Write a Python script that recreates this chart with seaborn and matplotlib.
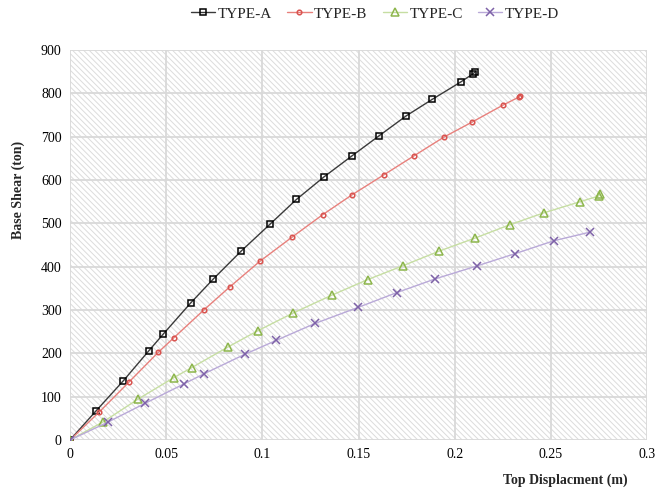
import numpy as np
import pandas as pd
import matplotlib
matplotlib.use("Agg")
import matplotlib.pyplot as plt
import seaborn as sns
from matplotlib.patches import Rectangle

sns.set_theme(style="white")
plt.rcParams['font.family'] = ['Liberation Serif', 'DejaVu Serif']
plt.rcParams['hatch.color'] = '#dcdcdc'
plt.rcParams['hatch.linewidth'] = 0.7

# displacement (m) and base shear (ton) for each type
disp_a = [0, 0.0135, 0.0278, 0.041, 0.0486, 0.0627, 0.0746, 0.089, 0.104, 0.1177,
          0.132, 0.1467, 0.1607, 0.1748, 0.1883, 0.2031, 0.2095, 0.2105]
shear_a = [0, 67, 137, 206, 245, 316, 372, 436, 498, 555, 607, 656, 702, 748, 786, 826, 845, 849]

disp_b = [0, 0.0153, 0.0305, 0.0458, 0.054, 0.0698, 0.083, 0.0986, 0.1154, 0.1314,
          0.1467, 0.1632, 0.1786, 0.1944, 0.2092, 0.2252, 0.2332, 0.234]
shear_b = [0, 65, 133, 202, 236, 301, 353, 412, 468, 520, 566, 612, 655, 699, 734, 773, 791, 794]

disp_c = [0, 0.0173, 0.0356, 0.054, 0.0633, 0.0823, 0.0976, 0.116, 0.136, 0.1547,
          0.173, 0.192, 0.2106, 0.2288, 0.2462, 0.2653, 0.2748, 0.2755]
shear_c = [0, 42, 95, 144, 167, 215, 252, 293, 334, 370, 402, 436, 466, 497, 524, 550, 563, 567]

disp_d = [0, 0.0196, 0.0392, 0.0595, 0.0698, 0.091, 0.1073, 0.1274, 0.1498, 0.1698,
          0.19, 0.2118, 0.2314, 0.2517, 0.2706]
shear_d = [0, 41, 85, 130, 153, 198, 230, 269, 306, 340, 372, 402, 430, 460, 480]

labels = ["TYPE-A", "TYPE-B", "TYPE-C", "TYPE-D"]
x_ticks = [0, 0.05, 0.1, 0.15, 0.2, 0.25, 0.3]
x_tick_labels = ["0", "0.05", "0.1", "0.15", "0.2", "0.25", "0.3"]
y_ticks = list(range(0, 901, 100))

series = [
    (disp_a, shear_a, "s", "#3a3a3a", "#000000", 4.3),
    (disp_b, shear_b, "o", "#e8807c", "#d9534f", 3.3),
    (disp_c, shear_c, "^", "#c6dea2", "#8db64c", 5.3),
    (disp_d, shear_d, "x", "#b9a9d8", "#7e62a8", 5.3),
]

fig = plt.figure(figsize=(6.55, 4.9), dpi=100)
ax = fig.add_axes([70 / 655, 1 - 440 / 490, 577 / 655, 390 / 490])

# hatched plot background
ax.add_patch(Rectangle((0, 0), 1, 1, transform=ax.transAxes, facecolor='white',
                       edgecolor='#dcdcdc', hatch='\\\\\\\\\\\\', linewidth=0, zorder=0))

for (xs, ys, mk, lc, mc, ms), lab in zip(series, labels):
    sns.lineplot(x=xs, y=ys, ax=ax, sort=False, estimator=None, color=lc,
                 linewidth=1.0, marker=mk, markersize=ms, markerfacecolor='none',
                 markeredgecolor=mc, markeredgewidth=1.1, label=lab, zorder=3)

ax.set_xlim(0, 0.3)
ax.set_ylim(0, 900)
ax.set_xticks(x_ticks)
ax.set_xticklabels(x_tick_labels)
ax.set_yticks(y_ticks)
ax.grid(True, color='#d9d9d9', linewidth=1.3)
ax.set_axisbelow(True)
for s in ax.spines.values():
    s.set_visible(False)
ax.tick_params(axis='both', labelsize=10, length=0, pad=6, colors='black')

fig.text(18 / 655, 1 - 190 / 490, "Base Shear (ton)", rotation=90, ha='center', va='center',
         fontsize=10, fontweight='bold')
fig.text(565 / 655, 1 - 480 / 490, "Top Displacment (m)", ha='center', va='center',
         fontsize=10, fontweight='bold')

handles, labs = ax.get_legend_handles_labels()
ax.get_legend().remove()
fig.legend(handles, labs, loc='center', bbox_to_anchor=(375 / 655, 1 - 14 / 490), ncol=4,
           frameon=False, fontsize=11, handlelength=1.6, columnspacing=1.0,
           handletextpad=0.15, borderaxespad=0)

fig.savefig("out.png", dpi=100)
